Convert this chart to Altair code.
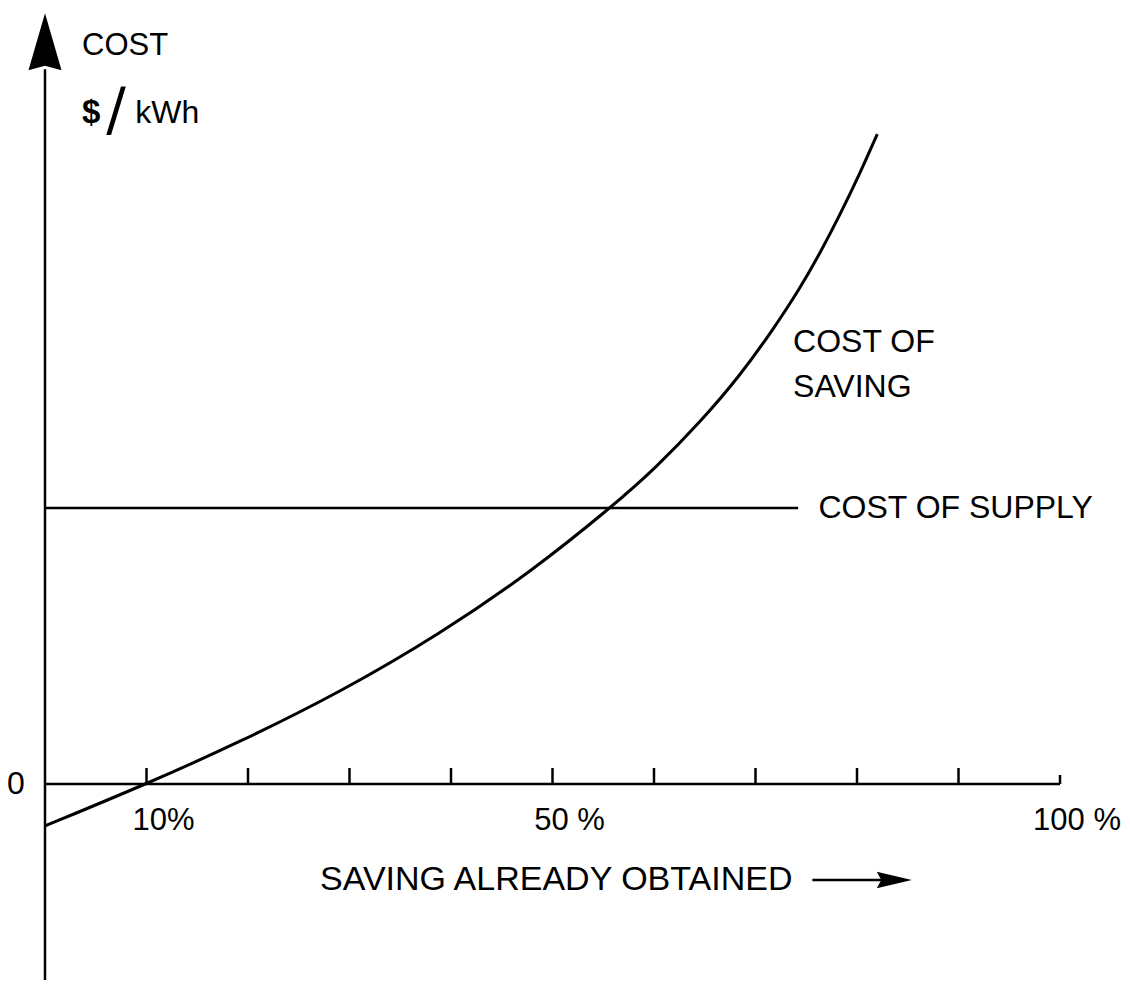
import altair as alt
import pandas as pd

# ---- data ----
saving_pct = [0, 10, 19.2, 29.1, 38.9, 48.0, 55.7, 60.2, 64.7, 68.5, 71.7, 74.4, 76.35, 78.3, 80.2, 82.0]
saving_cost = [-0.152, 0, 0.152, 0.333, 0.543, 0.772, 1.0, 1.146, 1.317, 1.481, 1.645, 1.797, 1.923, 2.061, 2.205, 2.355]

supply_cost = 1.0
supply_x = [0, 74.2]

tick_values = [10, 20, 30, 40, 50, 60, 70, 80, 90, 100]
tick_labels_at = [10, 50, 100]
tick_labels = ["10%", "50 %", "100 %"]

x_axis_range = [0, 100]
y_axis_range = [-0.72, 2.59]
y_arrow_tip = 2.793

x_title = "SAVING ALREADY OBTAINED"
x_arrow = [75.6, 85.4]
x_title_pos = (27.1, -0.348)

W, H = 1114, 972
x_dom = [-37 / 10.15, (W - 37) / 10.15]
y_dom = [(776 - H) / 276, 776 / 276]

xs = alt.Scale(domain=x_dom, nice=False, zero=False)
ys = alt.Scale(domain=y_dom, nice=False, zero=False)
FONT = "Liberation Sans"


def X(field="x"):
    return alt.X(f"{field}:Q", scale=xs, axis=None)


def Y(field="y"):
    return alt.Y(f"{field}:Q", scale=ys, axis=None)


curve_df = pd.DataFrame({"x": saving_pct, "y": saving_cost})
curve = alt.Chart(curve_df).mark_line(
    color="black", strokeWidth=3, interpolate="basis"
).encode(x=X(), y=Y())

supply = alt.Chart(pd.DataFrame({"x": [supply_x[0]], "x2": [supply_x[1]], "y": [supply_cost]})).mark_rule(
    color="black", strokeWidth=2.5
).encode(x=X(), x2="x2:Q", y=Y())

xaxis = alt.Chart(pd.DataFrame({"x": [x_axis_range[0]], "x2": [x_axis_range[1]], "y": [0]})).mark_rule(
    color="black", strokeWidth=2.5
).encode(x=X(), x2="x2:Q", y=Y())

ticks_df = pd.DataFrame({"x": tick_values[:-1], "y": [0] * (len(tick_values) - 1)})
ticks = alt.Chart(ticks_df).mark_rule(color="black", strokeWidth=2.5, y2Offset=-16).encode(
    x=X(), y=Y(), y2="y:Q"
)
last_tick = alt.Chart(pd.DataFrame({"x": [tick_values[-1]], "y": [0]})).mark_rule(
    color="black", strokeWidth=2.5, y2Offset=-9
).encode(x=X(), y=Y(), y2="y:Q")

yaxis = alt.Chart(pd.DataFrame({"x": [0], "y": [y_axis_range[0]], "y2": [y_axis_range[1]]})).mark_rule(
    color="black", strokeWidth=2.5
).encode(x=X(), y=Y(), y2="y2:Q")

y_arrow = alt.Chart(pd.DataFrame({"x": [0], "y": [y_arrow_tip]})).mark_point(
    shape="M0,-1L0.58,1L0,0.85L-0.58,1Z", size=3249, filled=True, color="black",
    opacity=1, yOffset=28.5
).encode(x=X(), y=Y())

tick_lab = alt.Chart(pd.DataFrame({"x": tick_labels_at, "t": tick_labels, "y": [0] * 3})).mark_text(
    font=FONT, fontSize=31, align="center", baseline="middle", dx=17, dy=37, color="black"
).encode(x=X(), y=Y(), text="t:N")

zero_lab = alt.Chart(pd.DataFrame({"x": [0], "y": [0], "t": ["0"]})).mark_text(
    font=FONT, fontSize=32, align="center", baseline="middle", dx=-29, color="black"
).encode(x=X(), y=Y(), text="t:N")

# annotation labels
lab_df = pd.DataFrame({
    "x": [73.7, 73.7, 76.2],
    "y": [1.601, 1.438, 1.0],
    "t": ["COST OF", "SAVING", "COST OF SUPPLY"],
})
labels = alt.Chart(lab_df).mark_text(
    font=FONT, fontSize=32, align="left", baseline="middle", color="black"
).encode(x=X(), y=Y(), text="t:N")

ylab = alt.Chart(pd.DataFrame({"x": [3.65], "y": [2.675], "t": ["COST"]})).mark_text(
    font=FONT, fontSize=31, align="left", baseline="middle", color="black"
).encode(x=X(), y=Y(), text="t:N")

dollar = alt.Chart(pd.DataFrame({"x": [3.65], "y": [2.43], "t": ["$"]})).mark_text(
    font=FONT, fontSize=33, fontWeight="bold", align="left", baseline="middle", color="black"
).encode(x=X(), y=Y(), text="t:N")
slash = alt.Chart(pd.DataFrame({"x": [7.0], "y": [2.43], "t": ["/"]})).mark_text(
    font="DejaVu Sans", fontSize=58, align="center", baseline="middle", color="black"
).encode(x=X(), y=Y(), text="t:N")
kwh = alt.Chart(pd.DataFrame({"x": [8.9], "y": [2.43], "t": ["kWh"]})).mark_text(
    font=FONT, fontSize=32, align="left", baseline="middle", color="black"
).encode(x=X(), y=Y(), text="t:N")

xtitle = alt.Chart(pd.DataFrame({"x": [x_title_pos[0]], "y": [x_title_pos[1]], "t": [x_title]})).mark_text(
    font=FONT, fontSize=34, align="left", baseline="middle", color="black"
).encode(x=X(), y=Y(), text="t:N")

xarrow_line = alt.Chart(pd.DataFrame({"x": [x_arrow[0]], "x2": [x_arrow[1]], "y": [x_title_pos[1]]})).mark_rule(
    color="black", strokeWidth=2.5, x2Offset=-20
).encode(x=X(), x2="x2:Q", y=Y())
xarrow_head = alt.Chart(pd.DataFrame({"x": [x_arrow[1]], "y": [x_title_pos[1]]})).mark_point(
    shape="M1,0L-1,-0.47L-0.75,0L-1,0.47Z", size=1225, filled=True, color="black",
    opacity=1, xOffset=-17.5
).encode(x=X(), y=Y())

chart = alt.layer(
    yaxis, xaxis, ticks, last_tick, supply, curve, y_arrow,
    tick_lab, zero_lab, labels, ylab, dollar, slash, kwh,
    xtitle, xarrow_line, xarrow_head,
).properties(
    width=W, height=H, padding=0, autosize=alt.AutoSizeParams(type="none")
).configure_view(stroke="transparent", strokeWidth=0)

chart.save("out.html", embed_options={"renderer": "svg", "actions": False})
